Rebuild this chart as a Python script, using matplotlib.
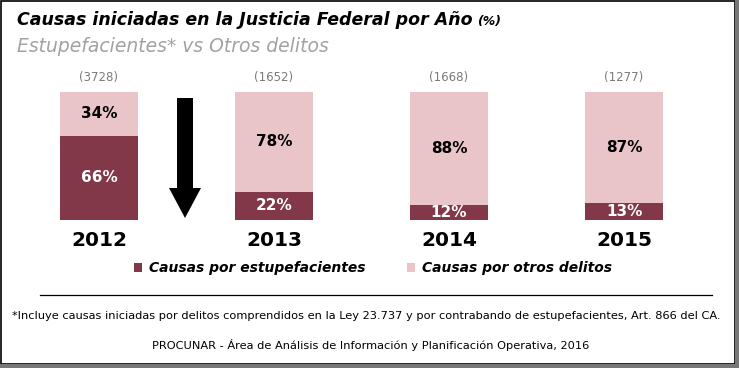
import matplotlib.pyplot as plt
import numpy as np
from matplotlib.patches import Polygon, Rectangle

years = ['2012', '2013', '2014', '2015']
totales = [3728, 1652, 1668, 1277]
estupefacientes = [66, 22, 12, 13]
otros = [34, 78, 88, 87]

DARK = '#823848'
LIGHT = '#e9c5c9'
W, H = 739, 368

fig = plt.figure(figsize=(W / 100, H / 100), dpi=100)
fig.patch.set_facecolor('white')

def px(x, y):
    # pixel coords (from top-left) -> figure fraction
    return x / W, 1 - y / H

# bars area: value 0 at y=220, 100 at y=92
l, b = px(11.5, 220)
r, t = px(711.5, 92)
ax = fig.add_axes([l, b, r - l, t - b])
x = np.arange(len(years))
bw = 0.446
b1 = ax.bar(x, estupefacientes, bw, color=DARK, label='Causas por estupefacientes')
b2 = ax.bar(x, otros, bw, bottom=estupefacientes, color=LIGHT, label='Causas por otros delitos')
ax.set_xlim(-0.5, 3.5)
ax.set_ylim(0, 100)
ax.axis('off')

for i in range(len(years)):
    ax.text(x[i], estupefacientes[i] / 2, '%d%%' % estupefacientes[i], ha='center', va='center',
            color='white', fontsize=11, fontweight='bold')
    ax.text(x[i], estupefacientes[i] + otros[i] / 2, '%d%%' % otros[i], ha='center', va='center',
            color='black', fontsize=11, fontweight='bold')
    ax.text(x[i], 111, '(%d)' % totales[i], ha='center', va='center', color='#7a7a7a', fontsize=8.5)
    ax.text(x[i], -16, years[i], ha='center', va='center', color='black', fontsize=14.5, fontweight='bold')

# arrow
pts = [(177, 98), (193, 98), (193, 188), (201, 188), (185, 218), (169, 188), (177, 188)]
fig.patches.append(Polygon([px(a, c) for a, c in pts], closed=True, facecolor='black',
                           edgecolor='none', transform=fig.transFigure))

# titles
fig.text(*px(17, 20), 'Causas iniciadas en la Justicia Federal por Año', fontsize=12.5,
         fontweight='bold', fontstyle='italic', va='center', ha='left')
fig.text(*px(477, 22), '(%)', fontsize=9, fontweight='bold', fontstyle='italic', va='center', ha='left')
fig.text(*px(17, 47), 'Estupefacientes* vs Otros delitos', fontsize=13.5, fontstyle='italic',
         color='#a2a2a2', va='center', ha='left')

leg = fig.legend(handles=[b1, b2], loc='center', bbox_to_anchor=px(373, 268), ncol=2, frameon=False,
                 handlelength=0.6, handleheight=0.6, handletextpad=0.5, columnspacing=3.0,
                 prop={'size': 10, 'style': 'italic', 'weight': 'semibold'})

fig.add_artist(plt.Line2D([40 / W, 712 / W], [1 - 295 / H] * 2, color='black', lw=0.9))

fig.text(*px(366, 316), '*Incluye causas iniciadas por delitos comprendidos en la Ley 23.737 y por contrabando '
         'de estupefacientes, Art. 866 del CA.', fontsize=8.2, ha='center', va='center')
fig.text(*px(371, 345), 'PROCUNAR - Área de Análisis de Información y Planificación Operativa, 2016',
         fontsize=8.2, ha='center', va='center')

# frame
fig.add_artist(Rectangle((1 / W, 4 / H), (W - 5) / W, (H - 5) / H, transform=fig.transFigure,
                         fill=False, edgecolor='black', lw=1.2))
fig.add_artist(Rectangle((0, 0), 1, 4 / H, transform=fig.transFigure, facecolor='#777777', edgecolor='none'))
fig.add_artist(Rectangle((1 - 4 / W, 0), 4 / W, 1, transform=fig.transFigure, facecolor='#777777', edgecolor='none'))

fig.savefig('out.png', dpi=100)
